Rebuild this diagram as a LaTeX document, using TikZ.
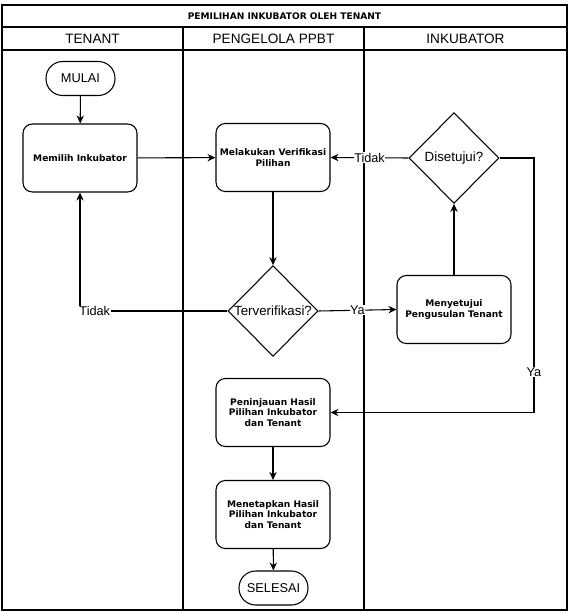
\documentclass[tikz,border=0pt]{standalone}
\usepackage{fontspec}
\setmainfont{Liberation Sans}
\newfontfamily\kotakfont{DejaVu Sans}
\usepackage{tikz}
\usetikzlibrary{shapes.geometric,arrows.meta}

\begin{document}
\begin{tikzpicture}[x=0.75pt,y=-0.75pt,
                lajur/.style={draw=black,line width=0.8pt},
                proses/.style={rectangle,rounded corners=7pt,draw=black,line width=0.8pt,minimum width=85.5pt,minimum height=51pt,inner sep=1pt,align=center,font=\kotakfont\bfseries\fontsize{6.8}{7.7}\selectfont},
                terminal/.style={rectangle,rounded corners=12.5pt,draw=black,line width=0.8pt,minimum width=51.75pt,minimum height=25.5pt,inner sep=1pt,font=\fontsize{9.6}{11}\selectfont},
                keputusan/.style={diamond,aspect=1,draw=black,line width=0.8pt,minimum width=67.5pt,minimum height=68pt,inner sep=0pt,font=\fontsize{10}{12}\selectfont},
                garis/.style={draw=black,line width=0.8pt,-{Stealth[length=6pt,width=5.5pt]}},
                ket/.style={fill=white,inner sep=0.5pt,font=\fontsize{9.5}{11}\selectfont}
            ]
                \useasboundingbox (0,0) rectangle (574,611);
                \draw[lajur] (2,5) rectangle (567,610);
                \draw[lajur] (2,27) -- (567,27);
                \draw[lajur] (2,50) -- (567,50);
                \foreach \x in {183,364}
                    {
                    \draw[lajur] (\x,27) -- (\x,610);
                }
                \node (judul) at (284.5,16) {\kotakfont\bfseries\fontsize{6.8}{8}\selectfont PEMILIHAN INKUBATOR OLEH TENANT};
                \foreach \x/\teks in {92.5/TENANT,273.5/PENGELOLA PPBT,465.5/INKUBATOR}
                    {
                    \node at (\x,39) {\fontsize{10.2}{12}\selectfont \teks};
                }

                \node[terminal] (mulai) at (80.5,78.5) {MULAI};
                \node[proses] (memilih) at (80,158) {Memilih Inkubator};
                \node[proses] (verifikasi) at (273,157.5) {Melakukan Verifikasi\\Pilihan};
                \node[keputusan] (terverifikasi) at (273,311) {Terverifikasi?};
                \node[keputusan] (disetujui) at (454,158) {Disetujui?};
                \node[proses] (menyetujui) at (454,309.5) {Menyetujui\\Pengusulan Tenant};
                \node[proses] (peninjauan) at (273,412.5) {Peninjauan Hasil\\Pilihan Inkubator\\dan Tenant};
                \node[proses] (menetapkan) at (273,514.5) {Menetapkan Hasil\\Pilihan Inkubator\\dan Tenant};
                \node[terminal] (selesai) at (273.5,588) {SELESAI};
                \coordinate (belok) at (534,412.5);

                \draw[garis] (mulai) -- (memilih);
                \draw[garis] (memilih) -- (verifikasi);
                \draw[garis] (verifikasi) -- (terverifikasi);
                \draw[garis] (terverifikasi.west) -| node[ket,pos=0.45] {Tidak} (memilih.south);
                \draw[garis] (terverifikasi.east) -- node[ket] {Ya} (menyetujui.west);
                \draw[garis] (menyetujui) -- (disetujui);
                \draw[garis] (disetujui.west) -- node[ket] {Tidak} (verifikasi.east);
                \draw[garis] (disetujui.east) -| node[ket,pos=0.92] {Ya} (belok) -- (peninjauan.east);
                \draw[garis] (peninjauan) -- (menetapkan);
                \draw[garis] (menetapkan) -- (selesai);

            \end{tikzpicture}
\end{document}
